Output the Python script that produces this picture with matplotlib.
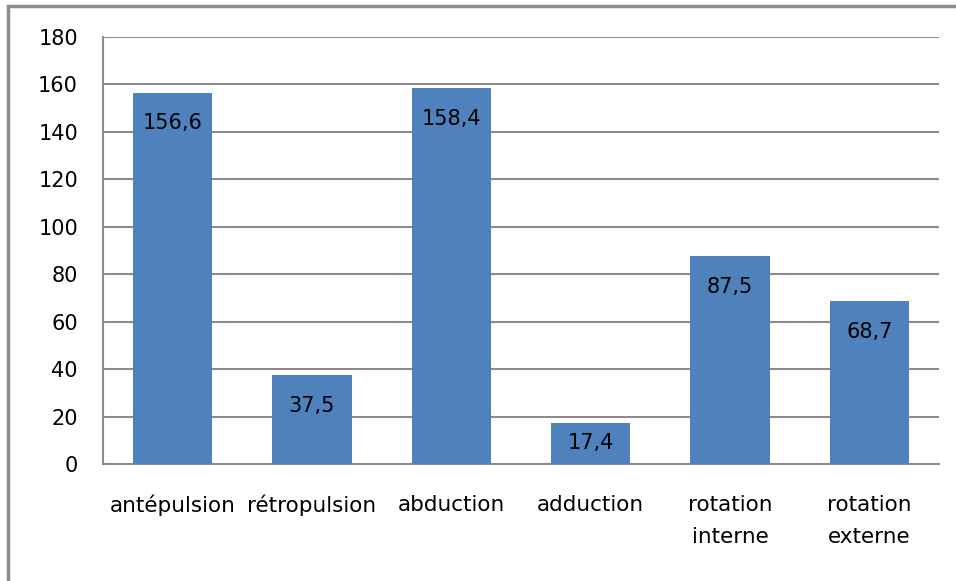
import matplotlib
matplotlib.use("Agg")
import matplotlib.pyplot as plt
from matplotlib.patches import Rectangle

categories = ["antépulsion", "rétropulsion", "abduction", "adduction",
              "rotation\ninterne", "rotation\nexterne"]
values = [156.6, 37.5, 158.4, 17.4, 87.5, 68.7]
value_labels = ["156,6", "37,5", "158,4", "17,4", "87,5", "68,7"]
yticks = [0, 20, 40, 60, 80, 100, 120, 140, 160, 180]

plt.rcParams['font.family'] = ['DejaVu Sans']

fig = plt.figure(figsize=(9.56, 5.81), dpi=100)
ax = fig.add_axes([103 / 956, 1 - 464 / 581, (939 - 103) / 956, (464 - 37) / 581])

# outer frame of the chart area
fig.patches.append(Rectangle((8 / 956, -0.1), 1.1, 1 - 6 / 581 + 0.1,
                             transform=fig.transFigure, fill=False,
                             edgecolor="#8c8c8c", linewidth=2.5))

x = range(len(categories))
bars = ax.bar(x, values, width=0.57, color="#4f81bd", zorder=3)

# labels sit just inside the bar end, or at the middle for short bars
for b, v, lab in zip(bars, values, value_labels):
    ax.text(b.get_x() + b.get_width() / 2, max(v - 13, v / 2), lab,
            ha="center", va="center", fontsize=15, color="black", zorder=4)

ax.set_xlim(-0.5, len(categories) - 0.5)
ax.set_ylim(0, 180)
ax.set_yticks(yticks)
ax.set_yticklabels([str(t) for t in yticks], fontsize=15)
ax.set_xticks(list(x))
ax.set_xticklabels(categories, fontsize=15.5, linespacing=1.8)
ax.tick_params(axis="y", length=0, pad=18)
ax.tick_params(axis="x", length=0, pad=22)
ax.yaxis.grid(True, color="#8c8c8c", linewidth=1.5, zorder=0)
ax.set_axisbelow(True)
for s in ["top", "right"]:
    ax.spines[s].set_visible(False)
for s in ["left", "bottom"]:
    ax.spines[s].set_color("#8c8c8c")
    ax.spines[s].set_linewidth(1.5)

fig.savefig("out.png", dpi=100)
